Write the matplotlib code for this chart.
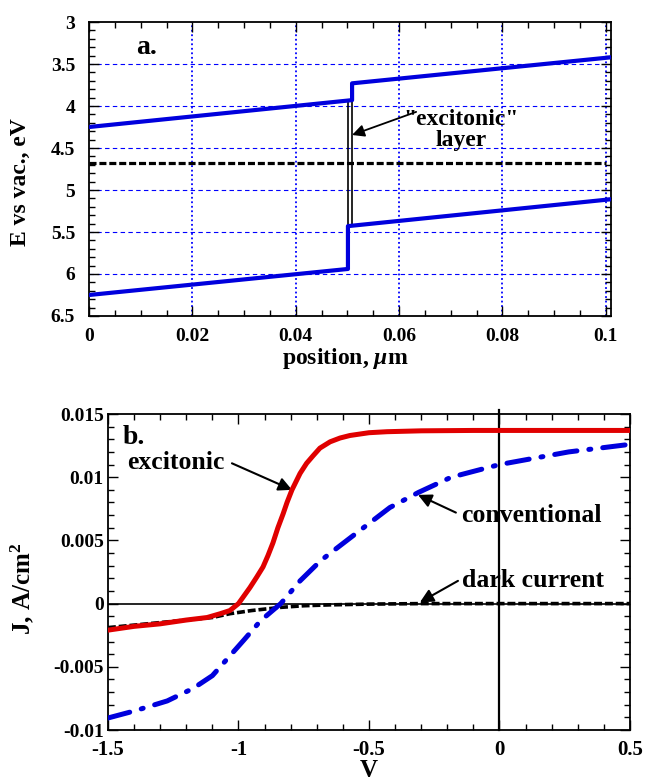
import matplotlib
matplotlib.use("Agg")
import matplotlib.pyplot as plt
from matplotlib.ticker import MultipleLocator, FixedLocator

plt.rcParams['font.family'] = ['Liberation Serif', 'DejaVu Serif']
plt.rcParams['font.weight'] = 'bold'
plt.rcParams['mathtext.fontset'] = 'custom'
plt.rcParams['mathtext.it'] = 'Liberation Serif:italic:bold'
plt.rcParams['mathtext.rm'] = 'Liberation Serif:bold'

# ---- panel a: band diagram ----
cb_x = [0.0, 0.0509, 0.0509, 0.101]
cb_e = [4.25, 3.93, 3.73, 3.42]
vb_x = [0.0, 0.0501, 0.0501, 0.101]
vb_e = [6.25, 5.94, 5.43, 5.11]
layer_x = [0.0501, 0.0509]
layer_top, layer_bottom = 3.93, 5.43
fermi_x = [0.0, 0.1]
fermi_e = [4.68, 4.68]
a_xticks = [0, 0.02, 0.04, 0.06, 0.08, 0.1]
a_xticklabels = ['0', '0.02', '0.04', '0.06', '0.08', '0.1']
a_yticks = [3, 3.5, 4, 4.5, 5, 5.5, 6, 6.5]
a_yticklabels = ['3', '3.5', '4', '4.5', '5', '5.5', '6', '6.5']

# ---- panel b: J-V curves ----
exc_v = [-1.5, -1.4, -1.3, -1.2, -1.12, -1.07, -1.033, -1.0, -0.956, -0.93,
         -0.906, -0.887, -0.868, -0.849, -0.829, -0.814, -0.795, -0.764,
         -0.739, -0.714, -0.688, -0.649, -0.611, -0.573, -0.5, -0.431,
         -0.3, -0.1, 0.1, 0.3, 0.5]
exc_j = [-0.0021, -0.0018, -0.0016, -0.0013, -0.0011, -0.0008, -0.00055, 0.0,
         0.00127, 0.0021, 0.0029, 0.0038, 0.0048, 0.0060, 0.0071, 0.0080,
         0.0090, 0.0103, 0.0111, 0.0117, 0.0123, 0.0128, 0.0131, 0.0133,
         0.01352, 0.0136, 0.01367, 0.0137, 0.0137, 0.0137, 0.0137]
conv_v = [-1.5, -1.4, -1.273, -1.173, -1.1, -1.04, -0.98, -0.915, -0.838,
          -0.764, -0.685, -0.635, -0.534, -0.42, -0.31, -0.185, 0.0, 0.265, 0.5]
conv_j = [-0.00905, -0.0085, -0.0077, -0.0067, -0.0057, -0.0043, -0.0029,
          -0.00135, 0.0, 0.0018, 0.0034, 0.0042, 0.0058, 0.0076, 0.0088,
          0.0100, 0.0110, 0.0120, 0.0126]
dark_v = [-1.5, -1.3, -1.1, -1.033, -0.95, -0.84, -0.75, -0.65, -0.5, -0.3, 0.5]
dark_j = [-0.0019, -0.0015, -0.0011, -0.0008, -0.00055, -0.0003, -0.00017,
          -0.0001, -0.00004, 0.0, 0.0]
b_xticks = [-1.5, -1, -0.5, 0, 0.5]
b_xticklabels = ['-1.5', '-1', '-0.5', '0', '0.5']
b_yticks = [-0.01, -0.005, 0, 0.005, 0.01, 0.015]
b_yticklabels = ['-0.01', '-0.005', '0', '0.005', '0.01', '0.015']

blue = '#0000dd'
red = '#e00000'

fig = plt.figure(figsize=(6.45, 7.81), dpi=100)
ax_a = fig.add_axes([0.138, 0.5954, 0.8093, 0.3764])
ax_b = fig.add_axes([0.1674, 0.0653, 0.8093, 0.4046])


def style_ticks(ax, size, pad):
    ax.tick_params(which='both', direction='in', top=True, right=True, width=1.0)
    ax.tick_params(which='major', length=7, labelsize=size, pad=pad)
    ax.tick_params(which='minor', length=4)
    for s in ax.spines.values():
        s.set_linewidth(1.3)


# panel a
for yv in a_yticks[1:-1]:
    ax_a.axhline(yv, color='#0000ff', lw=0.8, ls=(0, (4, 3)), zorder=1)
for xv in a_xticks[1:]:
    ax_a.axvline(xv, color='#0000ff', lw=1.3, ls=(0, (1, 1.5)), zorder=1)
ax_a.plot(fermi_x, fermi_e, color='black', lw=2.3, ls=(0, (2.2, 0.9)), zorder=2)
ax_a.vlines(layer_x, layer_top, layer_bottom, color='black', lw=1.2, zorder=2)
ax_a.plot(cb_x, cb_e, color=blue, lw=3.0, zorder=3)
ax_a.plot(vb_x, vb_e, color=blue, lw=3.0, zorder=3)
ax_a.set_xlim(0, 0.101)
ax_a.set_ylim(6.5, 3)
ax_a.xaxis.set_major_locator(FixedLocator(a_xticks))
ax_a.set_xticklabels(a_xticklabels)
ax_a.xaxis.set_minor_locator(MultipleLocator(0.005))
ax_a.yaxis.set_major_locator(FixedLocator(a_yticks))
ax_a.set_yticklabels(a_yticklabels)
ax_a.yaxis.set_minor_locator(MultipleLocator(0.1))
style_ticks(ax_a, 14, 10)
ax_a.tick_params(axis='x', pad=9)
ax_a.set_xlabel(r'position, $\mu$m', fontsize=17, fontweight='bold', va='center')
ax_a.xaxis.set_label_coords(0.49, -0.145)
ax_a.set_ylabel('E vs vac., eV', fontsize=17, fontweight='bold', va='center')
ax_a.yaxis.set_label_coords(-0.132, 0.456)
ax_a.text(0.0111, 3.30, 'a.', fontsize=20, fontweight='bold', ha='center', va='center')
ax_a.text(0.0720, 4.286, '"excitonic"\nlayer', fontsize=17, fontweight='bold',
          ha='center', va='center', linespacing=1.0)
ax_a.annotate('', xy=(0.0509, 4.345), xytext=(0.0633, 4.07),
              arrowprops=dict(arrowstyle='-|>', color='black', lw=1.3,
                              mutation_scale=18, shrinkA=0, shrinkB=0))

# panel b
ax_b.axhline(0, color='black', lw=1.2, zorder=1)
ax_b.plot([0, 0], [-0.01, 0.0153], color='black', lw=1.6, clip_on=False, zorder=1)
ax_b.plot(dark_v, dark_j, color='black', lw=2.6, ls=(0, (2.2, 0.8)), zorder=2)
ax_b.plot(conv_v, conv_j, color=blue, lw=3.6, ls=(0, (4.5, 2.4, 0.4, 2.4)),
          dash_capstyle='round', zorder=3)
ax_b.plot(exc_v, exc_j, color=red, lw=3.6, zorder=4)
ax_b.set_xlim(-1.5, 0.5)
ax_b.set_ylim(-0.01, 0.015)
ax_b.xaxis.set_major_locator(FixedLocator(b_xticks))
ax_b.set_xticklabels(b_xticklabels)
ax_b.xaxis.set_minor_locator(MultipleLocator(0.1))
ax_b.yaxis.set_major_locator(FixedLocator(b_yticks))
ax_b.set_yticklabels(b_yticklabels)
ax_b.yaxis.set_minor_locator(MultipleLocator(0.001))
style_ticks(ax_b, 14, 3)
ax_b.tick_params(axis='x', pad=7, labelsize=15)
ax_b.set_xlabel('V', fontsize=18, fontweight='bold', va='center')
ax_b.xaxis.set_label_coords(0.5, -0.127)
ax_b.set_ylabel(r'J, A/cm$^2$', fontsize=18, fontweight='bold', va='center')
ax_b.yaxis.set_label_coords(-0.165, 0.446)
ax_b.text(-1.40, 0.01317, 'b.', fontsize=20, fontweight='bold', ha='center', va='center')

arrow = dict(arrowstyle='-|>', color='black', lw=1.5, mutation_scale=20,
             shrinkA=0, shrinkB=0)
ax_b.text(-1.239, 0.0112, 'excitonic', fontsize=18.5, fontweight='bold',
          ha='center', va='center')
ax_b.annotate('', xy=(-0.795, 0.0090), xytext=(-1.025, 0.0111), arrowprops=arrow)
ax_b.text(0.121, 0.0070, 'conventional', fontsize=18.5, fontweight='bold',
          ha='center', va='center')
ax_b.annotate('', xy=(-0.312, 0.0086), xytext=(-0.167, 0.0072), arrowprops=arrow)
ax_b.text(0.128, 0.0018, 'dark current', fontsize=18.5, fontweight='bold',
          ha='center', va='center')
ax_b.annotate('', xy=(-0.305, 0.0001), xytext=(-0.159, 0.0018), arrowprops=arrow)

fig.savefig('out.png', dpi=100)
